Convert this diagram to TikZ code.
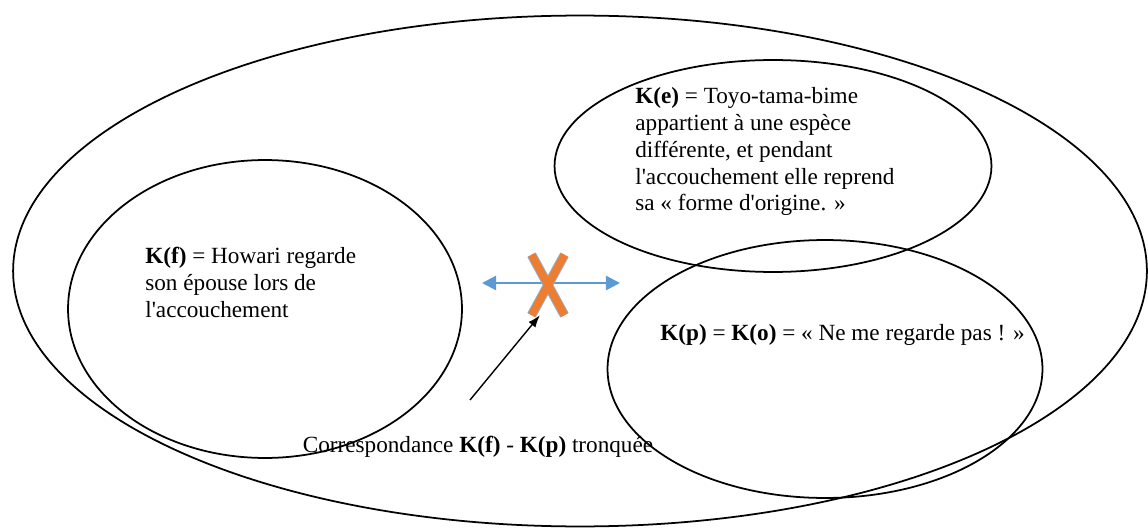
\documentclass[tikz,border=0pt]{standalone}
\usepackage{fontspec}
\setmainfont{Liberation Serif}
\usetikzlibrary{shapes}
\usetikzlibrary{shapes.geometric}
\usetikzlibrary{positioning}
\usetikzlibrary{arrows.meta}
\definecolor{bleuf}{RGB}{91,155,213}
\definecolor{orangex}{RGB}{237,125,49}
\tikzset{
    ensemble/.style = {ellipse, line width=1pt, draw=black, inner sep=0pt},
    texte/.style = {align=left, inner sep=0pt, anchor=north west, font=\fontsize{13.2}{15.3}\selectfont},
    flecheb/.style = {{Triangle[length=8pt,width=8pt]}-{Triangle[length=8pt,width=8pt]}, line width=1.4pt, bleuf},
    flechen/.style = {-{Latex[length=7pt,width=5pt]}, line width=0.8pt, black},
    croixo/.style = {cross out, minimum width=0.5cm, minimum height=1.05cm, draw=orangex, line width=4.5pt,
        preaction={draw=bleuf!70, line width=5.5pt}}
}
\begin{document}
\begin{tikzpicture}[x=0.02cm, y=-0.02cm]
\useasboundingbox (0,0) rectangle (1148,530);
% les ensembles
\node[ensemble, minimum width=22.68cm, minimum height=10.22cm] (U) at (580,271) {};
\node[ensemble, minimum width=7.88cm, minimum height=5.96cm] (Kf) at (265,309) {};
\node[ensemble, minimum width=8.74cm, minimum height=4.24cm] (Ke) at (773,166) {};
\node[ensemble, minimum width=8.7cm, minimum height=5.16cm] (Kp) at (825,369) {};
% les textes
\node[texte] (tKf) at (145,247) {\textbf{K(f)} = Howari regarde\\son épouse lors de\\l\textquotesingle accouchement};
\node[texte] (tKe) at (635,87) {\textbf{K(e)} = Toyo-tama-bime\\appartient à une espèce\\différente, et pendant\\l\textquotesingle accouchement elle reprend\\sa « forme d\textquotesingle origine. »};
\node[texte] (tKp) at (660,324) {\textbf{K(p)} = \textbf{K(o)} = « Ne me regarde pas ! »};
\node[texte, anchor=center] (corresp) at (478,447) {Correspondance \textbf{K(f)} - \textbf{K(p)} tronquée};
% la correspondance
\coordinate (gauche) at (482,283);
\coordinate (droite) at (620,283);
\coordinate (pied) at (470,400);
\draw[flecheb] (gauche) -- (droite);
\node[croixo] (croix) at (548,285) {};
\draw[flechen] (pied) -- (croix.255);
\end{tikzpicture}
\end{document}
